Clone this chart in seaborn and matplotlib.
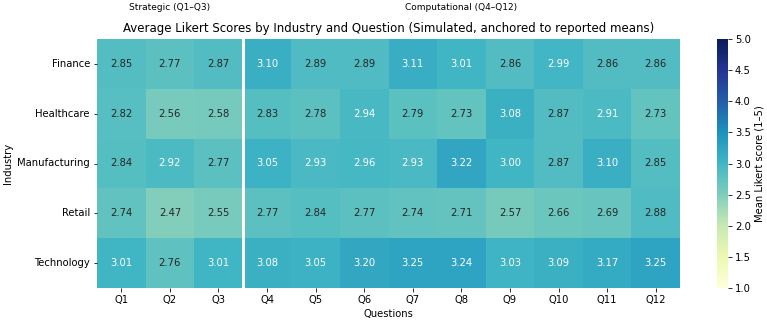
import numpy as np
import pandas as pd
import matplotlib
matplotlib.use("Agg")
import matplotlib.pyplot as plt
import seaborn as sns

industries = ["Finance", "Healthcare", "Manufacturing", "Retail", "Technology"]
questions = ["Q1", "Q2", "Q3", "Q4", "Q5", "Q6", "Q7", "Q8", "Q9", "Q10", "Q11", "Q12"]

finance = [2.85, 2.77, 2.87, 3.10, 2.89, 2.89, 3.11, 3.01, 2.86, 2.99, 2.86, 2.86]
healthcare = [2.82, 2.56, 2.58, 2.83, 2.78, 2.94, 2.79, 2.73, 3.08, 2.87, 2.91, 2.73]
manufacturing = [2.84, 2.92, 2.77, 3.05, 2.93, 2.96, 2.93, 3.22, 3.00, 2.87, 3.10, 2.85]
retail = [2.74, 2.47, 2.55, 2.77, 2.84, 2.77, 2.74, 2.71, 2.57, 2.66, 2.69, 2.88]
technology = [3.01, 2.76, 3.01, 3.08, 3.05, 3.20, 3.25, 3.24, 3.03, 3.09, 3.17, 3.25]

scores = pd.DataFrame([finance, healthcare, manufacturing, retail, technology],
                      index=industries, columns=questions)

W, H, DPI = 767, 324, 72
fig = plt.figure(figsize=(W / DPI, H / DPI), dpi=DPI)
ax = fig.add_axes([97 / W, 1 - 288 / H, (680 - 97) / W, (288 - 39) / H])
cax = fig.add_axes([717 / W, 1 - 288 / H, 11 / W, (288 - 39) / H])

sns.heatmap(scores, annot=True, fmt=".2f", cmap="YlGnBu", vmin=1, vmax=5,
            cbar_ax=cax, cbar_kws={"label": "Mean Likert score (1–5)"}, ax=ax)

# split strategic vs computational questions
ax.axvline(3, color="white", linewidth=3)
ax.text(1.5, 1.128, "Strategic (Q1–Q3)", transform=ax.get_xaxis_transform(),
        ha="center", va="center", fontsize=9)
ax.text(7.5, 1.128, "Computational (Q4–Q12)", transform=ax.get_xaxis_transform(),
        ha="center", va="center", fontsize=9)

ax.set_title("Average Likert Scores by Industry and Question (Simulated, anchored to reported means)",
             fontsize=11.8, pad=7)
ax.set_xlabel("Questions")
ax.set_ylabel("Industry")
plt.setp(ax.get_yticklabels(), rotation=0)

fig.savefig("out.png", dpi=DPI)
